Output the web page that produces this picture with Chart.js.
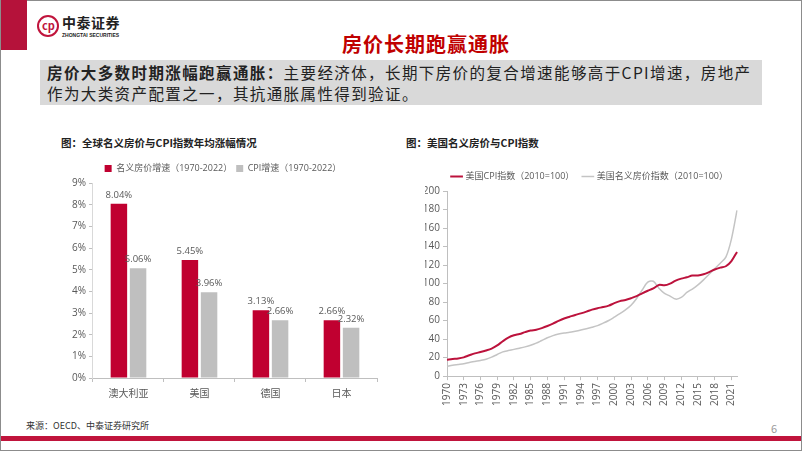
<!DOCTYPE html>
<html>
<head>
<meta charset="utf-8">
<script src="https://cdn.jsdelivr.net/npm/chart.js@4.4.1/dist/chart.umd.min.js"></script>
<style>
  html, body { margin: 0; padding: 0; }
  body { width: 802px; height: 451px; position: relative; overflow: hidden; background: #fff;
    font-family: "Noto Sans CJK SC", sans-serif; }
  .frame { position: absolute; left: 0; top: 0; width: 800px; height: 449px; border: 1px solid #8c8c8c; }
  .redblock { position: absolute; left: 1px; top: 0; width: 26px; height: 50px; background: #b5123a; }
  .logo-ring { position: absolute; left: 37px; top: 15px; width: 18px; height: 18px; border: 2px solid #c0143c; border-radius: 50%; }
  .logo-ring span { position: absolute; left: 3px; top: 1px; font-size: 11px; color: #c0143c; font-weight: 700; line-height: 14px; }
  .logo-cn { position: absolute; left: 62px; top: 12px; font-size: 14px; font-weight: 700; color: #222; letter-spacing: 0.5px; }
  .logo-en { position: absolute; left: 62px; top: 32px; font-size: 5px; font-weight: 700; color: #222; font-family: "Liberation Sans", sans-serif; }
  .title { position: absolute; left: 0; width: 852px; top: 29px; text-align: center; font-size: 20px; color: #c00000; font-weight: 700; letter-spacing: 1px; }
  .note { position: absolute; left: 40px; top: 60px; width: 722px; height: 45px; background: #d9d9d9; }
  .note p { margin: 0; position: absolute; left: 7px; top: 2px; font-size: 15.5px; line-height: 21px; color: #222; letter-spacing: 1.4px; white-space: nowrap; }
  .note b { font-weight: 700; }
  .ctitle { position: absolute; top: 135px; font-size: 10.5px; font-weight: 700; color: #222; }
  #bars { position: absolute; left: 40px; top: 150px; }
  #lines { position: absolute; left: 395px; top: 150px; }
  .src { position: absolute; left: 26px; top: 419px; font-size: 9px; color: #333; }
  .page { position: absolute; left: 771px; top: 420px; font-size: 11px; color: #999; }
  .footbar { position: absolute; left: 1px; top: 436px; width: 800px; height: 5px; background: #c0143c; }
</style>
</head>
<body>
<div class="frame"></div>
<div class="redblock"></div>
<div class="logo-ring"><span>cp</span></div>
<div class="logo-cn">中泰证券</div>
<div class="logo-en">ZHONGTAI SECURITIES</div>
<div class="title">房价长期跑赢通胀</div>
<div class="note"><p><b>房价大多数时期涨幅跑赢通胀：</b>主要经济体，长期下房价的复合增速能够高于CPI增速，房地产<br>作为大类资产配置之一，其抗通胀属性得到验证。</p></div>
<div class="ctitle" style="left:61px">图：全球名义房价与CPI指数年均涨幅情况</div>
<div class="ctitle" style="left:406px">图：美国名义房价与CPI指数</div>
<canvas id="bars" width="345" height="262"></canvas>
<canvas id="lines" width="375" height="262"></canvas>
<div class="src">来源：OECD、中泰证券研究所</div>
<div class="page">6</div>
<div class="footbar"></div>

<script>
const countries = ['澳大利亚', '美国', '德国', '日本'];
const housePct = [8.04, 5.45, 3.13, 2.66];
const cpiPct = [5.06, 3.96, 2.66, 2.32];

const years = [];
for (let y = 1970; y <= 2022; y++) years.push(String(y));
const usCpi = [17.7, 18.5, 19.1, 20.3, 22.5, 24.6, 26.0, 27.7, 29.8, 33.2,
  37.7, 41.6, 44.1, 45.5, 47.5, 49.2, 50.1, 51.9, 54.1, 56.7,
  59.7, 62.3, 64.2, 66.1, 67.8, 69.7, 71.8, 73.4, 74.6, 76.2,
  78.8, 81.0, 82.3, 84.2, 86.4, 89.4, 92.2, 94.8, 98.5, 98.1,
  100.0, 103.2, 105.3, 106.8, 108.6, 108.7, 110.0, 112.4, 115.2, 117.2,
  118.7, 124.3, 134.2];
const usHouse = [10.7, 11.8, 12.6, 13.4, 14.8, 15.9, 16.9, 18.2, 20.5, 23.4,
  26.2, 27.6, 28.9, 30.2, 31.6, 33.3, 35.6, 38.5, 41.4, 43.8,
  45.5, 46.6, 47.3, 48.5, 49.8, 51.2, 52.8, 54.6, 57.2, 60.1,
  63.7, 67.4, 71.6, 76.6, 83.9, 93.0, 101.5, 102.5, 94.9, 89.4,
  86.5, 83.2, 85.0, 90.4, 94.1, 98.5, 104.0, 110.0, 116.0, 122.0,
  128.5, 148.0, 179.0];

const txt = '#595959';
const font = { family: '"Open Sans", "Noto Sans CJK SC", sans-serif', size: 10 };
const legendFont = { family: '"Open Sans", "Noto Sans CJK SC", sans-serif', size: 9 };

const barLabels = {
  id: 'barLabels',
  afterDatasetsDraw(chart) {
    const ctx = chart.ctx;
    ctx.save();
    ctx.font = '9.5px "Open Sans", sans-serif';
    ctx.fillStyle = txt;
    ctx.textAlign = 'center';
    ctx.textBaseline = 'bottom';
    chart.data.datasets.forEach((ds, i) => {
      chart.getDatasetMeta(i).data.forEach((bar, j) => {
        ctx.fillText(ds.data[j].toFixed(2) + '%', bar.x, bar.y - 4);
      });
    });
    ctx.restore();
  }
};

new Chart(document.getElementById('bars'), {
  type: 'bar',
  data: {
    labels: countries,
    datasets: [
      { label: '名义房价增速（1970-2022）', data: housePct, backgroundColor: '#c00030', categoryPercentage: 0.54, barPercentage: 0.86 },
      { label: 'CPI增速（1970-2022）', data: cpiPct, backgroundColor: '#bfbfbf', categoryPercentage: 0.54, barPercentage: 0.86 },
    ],
  },
  options: {
    responsive: false,
    animation: false,
    layout: { padding: { top: 10, right: 8, left: 29, bottom: 6 } },
    plugins: {
      legend: {
        labels: { color: txt, font: legendFont, boxWidth: 7, boxHeight: 7, padding: 4 },
      },
      tooltip: { enabled: false },
    },
    scales: {
      x: {
        grid: { drawOnChartArea: false, color: '#bfbfbf', tickLength: 4, offset: true },
        border: { color: '#bfbfbf' },
        ticks: { color: txt, font, padding: 6 },
      },
      y: {
        min: 0, max: 9,
        grid: { drawOnChartArea: false, color: '#bfbfbf', tickLength: 4 },
        border: { color: '#d9d9d9' },
        ticks: { color: txt, font, stepSize: 1, callback: (v) => v + '%' },
      },
    },
  },
  plugins: [barLabels],
});

new Chart(document.getElementById('lines'), {
  type: 'line',
  data: {
    labels: years,
    datasets: [
      { label: '美国CPI指数（2010=100）', data: usCpi, borderColor: '#bc123c', backgroundColor: '#bc123c', borderWidth: 2, pointRadius: 0, tension: 0.3 },
      { label: '美国名义房价指数（2010=100）', data: usHouse, borderColor: '#c4c4c4', backgroundColor: '#c4c4c4', borderWidth: 1.5, pointRadius: 0, tension: 0.3 },
    ],
  },
  options: {
    responsive: false,
    animation: false,
    layout: { padding: { top: 13, right: 33, left: 30, bottom: 3 } },
    plugins: {
      legend: {
        align: 'end',
        labels: { color: txt, font: legendFont, usePointStyle: true, pointStyle: 'line', boxWidth: 16, padding: 9 },
      },
      tooltip: { enabled: false },
    },
    scales: {
      x: {
        grid: {
          drawOnChartArea: false, tickLength: 4,
          color: (c) => (c.index % 3 === 0 ? '#bfbfbf' : 'rgba(0,0,0,0)'),
        },
        border: { color: '#bfbfbf' },
        ticks: {
          color: txt, font, autoSkip: false, minRotation: 90, maxRotation: 90,
          callback: (v, i) => (i % 3 === 0 ? years[i] : ''),
        },
      },
      y: {
        min: 0, max: 200,
        afterFit: (scale) => { scale.width = 22; },
        grid: { drawOnChartArea: false, color: '#bfbfbf', tickLength: 4 },
        border: { color: '#bfbfbf' },
        ticks: { color: txt, font, stepSize: 20 },
      },
    },
  },
});
</script>
</body>
</html>
